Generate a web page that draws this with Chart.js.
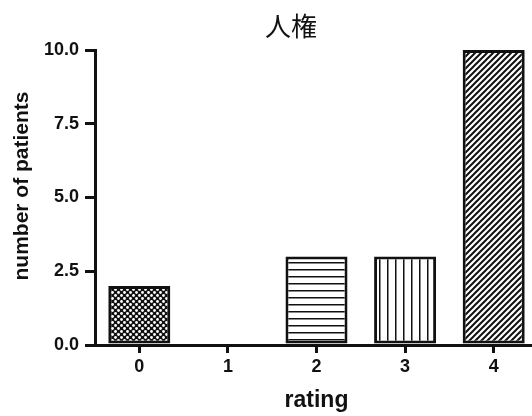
<!DOCTYPE html>
<html>
<head>
<meta charset="utf-8">
<script src="https://cdn.jsdelivr.net/npm/chart.js@4/dist/chart.umd.min.js"></script>
<style>
  html, body { margin: 0; padding: 0; background: #fff; overflow: hidden; }
  #wrap { width: 540px; height: 416px; }
</style>
</head>
<body>
<div id="wrap"><canvas id="ratingChart" width="540" height="416"></canvas></div>
<script>
// data
const chartTitle = '人権';
const xAxisTitle = 'rating';
const yAxisTitle = 'number of patients';
const ratings = ['0', '1', '2', '3', '4'];
const patientCounts = [2, 0, 3, 3, 10];
const yTickValues = [0, 2.5, 5, 7.5, 10];

const ink = '#111';
const fontName = '"Liberation Sans", Arial, sans-serif';

// --- hatch patterns for the bars ---
function makePattern(size, drawFn) {
    const c = document.createElement('canvas');
    c.width = size; c.height = size;
    const g = c.getContext('2d');
    g.fillStyle = '#fff';
    g.fillRect(0, 0, size, size);
    drawFn(g, size);
    return document.getElementById('ratingChart').getContext('2d').createPattern(c, 'repeat');
}

const dotPattern = makePattern(6, (g, s) => {
    g.fillStyle = '#111';
    g.fillRect(0, 0, s, s);
    g.fillStyle = '#fff';
    g.beginPath(); g.arc(1.5, 1.5, 1.4, 0, Math.PI * 2); g.fill();
    g.beginPath(); g.arc(4.5, 4.5, 1.4, 0, Math.PI * 2); g.fill();
});
const hLinePattern = makePattern(7, (g, s) => {
    g.fillStyle = '#111';
    g.fillRect(0, 3, s, 1.5);
});
const vLinePattern = makePattern(8, (g, s) => {
    g.fillStyle = '#111';
    g.fillRect(3, 0, 1.5, s);
});
const diagPattern = makePattern(6, (g, s) => {
    g.strokeStyle = '#111';
    g.lineWidth = 2;
    g.beginPath();
    g.moveTo(-1, s + 1); g.lineTo(s + 1, -1);
    g.moveTo(-1, 1); g.lineTo(1, -1);
    g.moveTo(s - 1, s + 1); g.lineTo(s + 1, s - 1);
    g.stroke();
});
const barFills = [dotPattern, '#fff', hLinePattern, vLinePattern, diagPattern];

// title and y title sit a little off the plot centre in the original
const textPlugin = {
    id: 'extraText',
    afterDraw(chart) {
        const ctx = chart.ctx;
        ctx.save();
        ctx.fillStyle = ink;
        ctx.textAlign = 'center';
        ctx.textBaseline = 'middle';
        ctx.font = '26px "Noto Sans CJK JP", "Noto Sans CJK SC", sans-serif';
        ctx.fillText(chartTitle, 291, 26);
        ctx.translate(22, 186);
        ctx.rotate(-Math.PI / 2);
        ctx.font = 'bold 21px ' + fontName;
        ctx.fillText(yAxisTitle, 0, 0);
        ctx.restore();
    }
};

new Chart(document.getElementById('ratingChart'), {
    type: 'bar',
    data: {
        labels: ratings,
        datasets: [{
            data: patientCounts,
            backgroundColor: barFills,
            borderColor: ink,
            borderWidth: 3,
            borderSkipped: false,
            barPercentage: 0.7,
            categoryPercentage: 1.0
        }]
    },
    options: {
        responsive: false,
        animation: false,
        layout: { padding: { top: 50, right: 2, left: 0, bottom: 0 } },
        plugins: { legend: { display: false }, tooltip: { enabled: false } },
        scales: {
            x: {
                afterFit: s => { s.height = 71; },
                grid: { drawOnChartArea: false, offset: false, tickLength: 8, lineWidth: 3, color: ink },
                border: { display: true, width: 3, color: ink },
                ticks: { color: ink, padding: 3, font: { family: fontName, size: 18, weight: 'bold' } },
                title: { display: true, text: xAxisTitle, color: ink, padding: { top: 0, bottom: 2 },
                         font: { family: fontName, size: 23, weight: 'bold' } }
            },
            y: {
                min: 0, max: 10,
                afterFit: s => { s.width = 95; },
                afterBuildTicks: s => { s.ticks = yTickValues.map(v => ({ value: v })); },
                grid: { drawOnChartArea: false, tickLength: 10, lineWidth: 3, color: ink },
                border: { display: true, width: 3, color: ink },
                ticks: { color: ink, padding: 6, callback: v => Number(v).toFixed(1),
                         font: { family: fontName, size: 18, weight: 'bold' } }
            }
        }
    },
    plugins: [textPlugin]
});
</script>
</body>
</html>
